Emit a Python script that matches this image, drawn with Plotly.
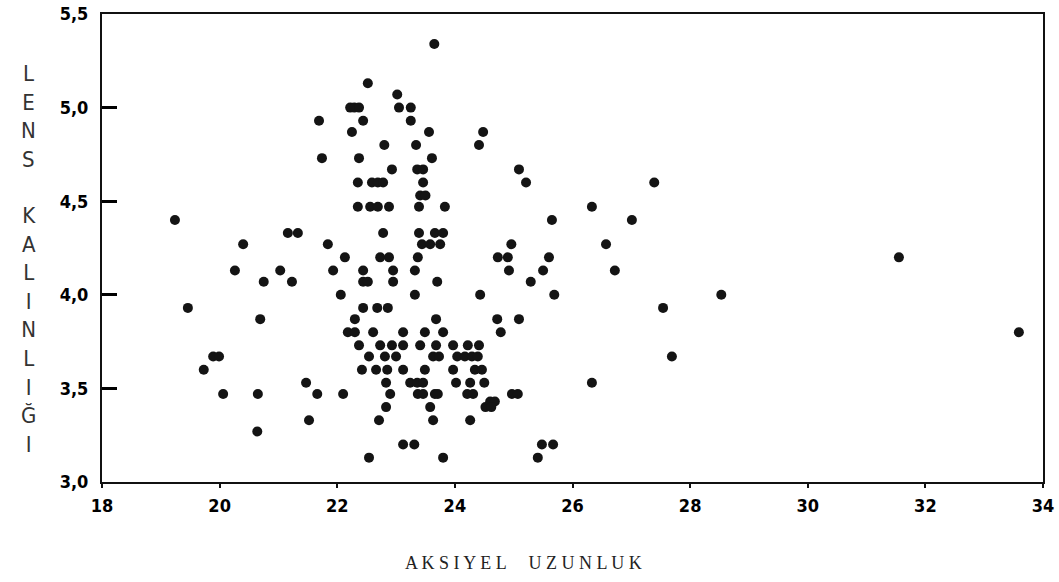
import plotly.graph_objects as go

# Axial length (x) and lens thickness (y)
axial_length = [
    23.65, 22.52, 23.02, 22.22, 22.29, 22.37, 23.05, 23.25, 22.44, 23.25, 21.69,
    22.25, 23.56, 24.48, 24.41, 22.80, 23.34, 21.74, 22.37, 23.61, 22.93, 23.36,
    23.46, 22.35, 22.59, 22.69, 22.78, 23.46, 23.41, 23.50, 22.35, 22.56, 22.69,
    22.88, 23.39, 23.83, 19.24, 21.16, 21.33, 22.78, 23.39, 23.66, 23.80, 20.40,
    21.84, 23.44, 23.58, 23.75, 22.13, 22.73, 22.88, 23.37, 20.26, 21.03, 21.93,
    22.44, 22.95, 23.32, 20.75, 21.23, 22.44, 22.52, 22.95, 23.70, 22.06, 23.32,
    24.43, 19.46, 22.44, 22.68, 22.86, 20.69, 22.30, 23.68, 22.18, 22.30, 22.61,
    23.12, 23.49, 23.80, 22.37, 22.73, 22.93, 23.12, 23.41, 23.68, 23.97, 24.22,
    24.41, 19.89, 19.99, 22.54, 22.81, 23.00, 23.63, 23.73, 24.04, 24.17, 24.29,
    24.39, 19.73, 22.42, 22.66, 22.85, 23.12, 23.49, 23.97, 24.34, 24.46, 22.83,
    23.24, 23.36, 23.46, 21.47, 24.02, 24.26, 24.50, 20.06, 20.65, 21.66, 22.10,
    22.90, 23.37, 23.46, 23.66, 23.71, 24.21, 24.31, 24.52, 24.60, 24.68, 24.62,
    22.83, 23.58, 23.63, 21.52, 22.71, 24.26, 20.64, 23.12, 23.31, 22.54, 23.80,
    25.09, 25.21, 27.39, 26.33, 25.65, 27.01, 24.96, 26.57, 24.73, 24.90, 25.60,
    24.92, 25.50, 26.72, 25.29, 25.69, 27.54, 28.53, 24.72, 25.09, 24.78, 27.69,
    26.33, 24.97, 25.07, 25.48, 25.67, 25.41, 31.55, 33.59,
]
lens_thickness = [
    5.34, 5.13, 5.07, 5.00, 5.00, 5.00, 5.00, 5.00, 4.93, 4.93, 4.93,
    4.87, 4.87, 4.87, 4.80, 4.80, 4.80, 4.73, 4.73, 4.73, 4.67, 4.67,
    4.67, 4.60, 4.60, 4.60, 4.60, 4.60, 4.53, 4.53, 4.47, 4.47, 4.47,
    4.47, 4.47, 4.47, 4.40, 4.33, 4.33, 4.33, 4.33, 4.33, 4.33, 4.27,
    4.27, 4.27, 4.27, 4.27, 4.20, 4.20, 4.20, 4.20, 4.13, 4.13, 4.13,
    4.13, 4.13, 4.13, 4.07, 4.07, 4.07, 4.07, 4.07, 4.07, 4.00, 4.00,
    4.00, 3.93, 3.93, 3.93, 3.93, 3.87, 3.87, 3.87, 3.80, 3.80, 3.80,
    3.80, 3.80, 3.80, 3.73, 3.73, 3.73, 3.73, 3.73, 3.73, 3.73, 3.73,
    3.73, 3.67, 3.67, 3.67, 3.67, 3.67, 3.67, 3.67, 3.67, 3.67, 3.67,
    3.67, 3.60, 3.60, 3.60, 3.60, 3.60, 3.60, 3.60, 3.60, 3.60, 3.53,
    3.53, 3.53, 3.53, 3.53, 3.53, 3.53, 3.53, 3.47, 3.47, 3.47, 3.47,
    3.47, 3.47, 3.47, 3.47, 3.47, 3.47, 3.47, 3.40, 3.43, 3.43, 3.40,
    3.40, 3.40, 3.33, 3.33, 3.33, 3.33, 3.27, 3.20, 3.20, 3.13, 3.13,
    4.67, 4.60, 4.60, 4.47, 4.40, 4.40, 4.27, 4.27, 4.20, 4.20, 4.20,
    4.13, 4.13, 4.13, 4.07, 4.00, 3.93, 4.00, 3.87, 3.87, 3.80, 3.67,
    3.53, 3.47, 3.47, 3.20, 3.20, 3.13, 4.20, 3.80,
]

x_tickvals = [18, 20, 22, 24, 26, 28, 30, 32, 34]
x_ticktext = ["18", "20", "22", "24", "26", "28", "30", "32", "34"]
y_tickvals = [3.0, 3.5, 4.0, 4.5, 5.0, 5.5]
y_ticktext = ["3,0", "3,5", "4,0", "4,5", "5,0", "5,5"]

x_title_words = ["AKSIYEL", "UZUNLUK"]
y_title_words = ["LENS", "KALINLIĞI"]

W, H = 1059, 582
L, R, T, B = 102, 16, 14, 100
plot_h = H - T - B
plot_w = W - L - R

def px_x(px):
    return (px - L) / plot_w

def px_y(py):
    return (H - B - py) / plot_h

fig = go.Figure()
fig.add_trace(go.Scatter(
    x=axial_length, y=lens_thickness, mode="markers",
    marker=dict(size=10, color="#141414", line=dict(width=0)),
    showlegend=False, hoverinfo="x+y",
))

tick_font = dict(family="DejaVu Sans Condensed, DejaVu Sans, sans-serif",
                 size=18, color="#000", weight="bold")

fig.update_xaxes(
    range=[18, 34], tickvals=x_tickvals, ticktext=x_ticktext,
    showline=True, linecolor="#111", linewidth=2, mirror=True,
    ticks="outside", ticklen=4, tickwidth=2, tickcolor="#111",
    showgrid=False, zeroline=False, tickfont=tick_font,
    ticklabelstandoff=2, automargin=False, ticklabeloverflow="allow",
)
fig.update_yaxes(
    range=[3.0, 5.5], tickvals=y_tickvals, ticktext=y_ticktext,
    showline=True, linecolor="#111", linewidth=2, mirror=True,
    ticks="inside", ticklen=15, tickwidth=3, tickcolor="#000",
    showgrid=False, zeroline=False, tickfont=tick_font,
    ticklabelstandoff=8, automargin=False, ticklabeloverflow="allow",
)

letter_font = dict(family="DejaVu Sans Condensed, Liberation Sans Narrow, sans-serif",
                   color="#333", size=22)
annotations = [
    dict(text="<br>".join(y_title_words[0]), xref="paper", yref="paper",
         x=px_x(28), y=px_y(116),
         xanchor="center", yanchor="middle", showarrow=False, font=letter_font),
    dict(text="<br>".join(y_title_words[1]), xref="paper", yref="paper",
         x=px_x(28), y=px_y(330),
         xanchor="center", yanchor="middle", showarrow=False, font=letter_font),
    dict(text="     ".join(" ".join(w) for w in x_title_words),
         xref="paper", yref="paper",
         x=px_x(523), y=px_y(563),
         xanchor="center", yanchor="middle", showarrow=False,
         font=dict(family="Liberation Serif, DejaVu Serif, serif", size=18, color="#222")),
]

fig.update_layout(
    width=W, height=H, autosize=False,
    margin=dict(l=L, r=R, t=T, b=B, pad=0),
    paper_bgcolor="white", plot_bgcolor="white",
    annotations=annotations,
)

# remove the default page margin so the figure fills the browser window exactly
fig.write_html("out.html",
               config={"displayModeBar": False},
               post_script="document.body.style.margin='0';document.body.style.overflow='hidden';")
